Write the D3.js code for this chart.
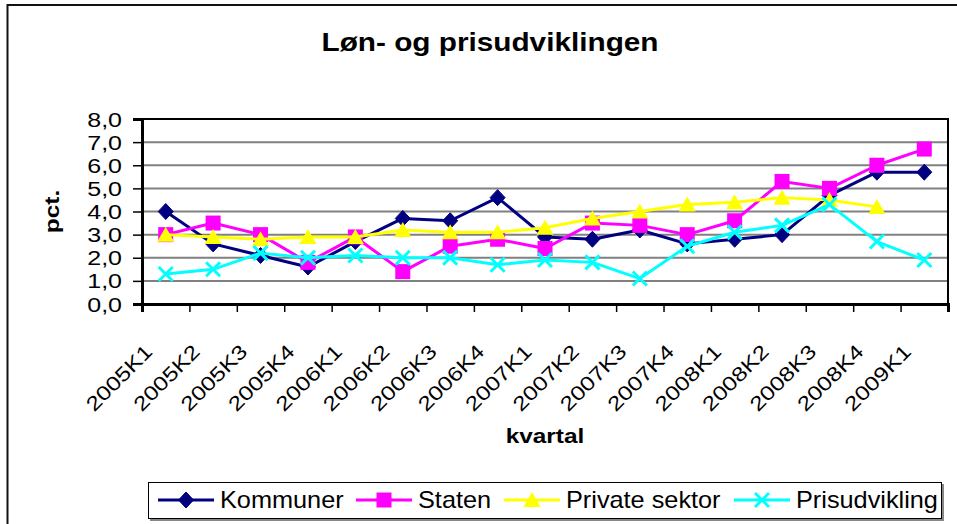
<!DOCTYPE html>
<html>
<head>
<meta charset="utf-8">
<script src="https://cdn.jsdelivr.net/npm/d3@7"></script>
<style>
  html, body { margin: 0; padding: 0; background: #fff; }
  svg { display: block; }
  svg text { font-family: "Liberation Sans", Arial, sans-serif; }
</style>
</head>
<body>
<svg id="chart" width="957" height="524"></svg>
<script>
const categories = ["2005K1","2005K2","2005K3","2005K4","2006K1","2006K2","2006K3","2006K4",
  "2007K1","2007K2","2007K3","2007K4","2008K1","2008K2","2008K3","2008K4","2009K1"];
const kommuner = [4.0, 2.6, 2.1, 1.6, 2.7, 3.7, 3.6, 4.6, 2.9, 2.8, 3.2, 2.6, 2.8, 3.0, 4.7, 5.7, 5.7];
const staten   = [3.0, 3.5, 3.0, 1.8, 2.9, 1.4, 2.5, 2.8, 2.4, 3.5, 3.4, 3.0, 3.6, 5.3, 5.0, 6.0, 6.7];
const privat   = [3.0, 2.9, 2.8, 2.9, 2.9, 3.2, 3.1, 3.1, 3.3, 3.7, 4.0, 4.3, 4.4, 4.6, 4.5, 4.2, null];
const pris     = [1.3, 1.5, 2.2, 2.0, 2.1, 2.0, 2.0, 1.7, 1.9, 1.8, 1.1, 2.5, 3.1, 3.4, 4.3, 2.7, 1.9];
const yTicks = [0, 1, 2, 3, 4, 5, 6, 7, 8];
const seriesNames = ["Kommuner", "Staten", "Private sektor", "Prisudvikling"];
const title = "Løn- og prisudviklingen";
const xTitle = "kvartal";
const yTitle = "pct.";

const FONT = "'Liberation Sans', Arial, sans-serif";

const series = [
  { name: seriesNames[0], values: kommuner, color: "#000080", marker: "diamond" },
  { name: seriesNames[1], values: staten,   color: "#FF00FF", marker: "square" },
  { name: seriesNames[2], values: privat,   color: "#FFFF00", marker: "triangle" },
  { name: seriesNames[3], values: pris,     color: "#00FFFF", marker: "x" }
];

const svg = d3.select("#chart");
const L = 142, R = 948, T = 119, B = 304;

// outer chart border
svg.append("rect").attr("x", 7.5).attr("y", 5).attr("width", 980).attr("height", 560)
  .attr("fill", "#fff").attr("stroke", "#111").attr("stroke-width", 2);

const x = d3.scaleBand().domain(categories).range([L, R]).paddingInner(0).paddingOuter(0);
const xi = d3.scaleLinear().domain([0, categories.length]).range([L, R]);
const y = d3.scaleLinear().domain([0, 8]).range([B, T]);
const cx = c => x(c) + x.bandwidth() / 2;

// gridlines
svg.append("g").selectAll("line").data(yTicks.filter(v => v > 0 && v < 8)).join("line")
  .attr("x1", L).attr("x2", R).attr("y1", d => y(d)).attr("y2", d => y(d))
  .attr("stroke", "#808080").attr("stroke-width", 2);

// plot border top/right
svg.append("path").attr("d", `M${L},${T}H${R}V${B}`).attr("fill", "none")
  .attr("stroke", "#000").attr("stroke-width", 2);

// y axis
const yAxis = svg.append("g").attr("transform", `translate(${L},0)`)
  .call(d3.axisLeft(y).tickValues(yTicks).tickSize(9).tickFormat(d => d.toFixed(1).replace(".", ",")));
yAxis.attr("font-family", FONT);
yAxis.select(".domain").attr("stroke", "#000").attr("stroke-width", 3);
yAxis.selectAll(".tick line").attr("stroke", "#000").attr("stroke-width", 1.5);
yAxis.selectAll(".tick text")
  .attr("x", null).attr("dy", null)
  .attr("text-anchor", "end")
  .attr("transform", "translate(-20,7) scale(1.25,1)")
  .attr("font-size", 20).attr("fill", "#000")
  .attr("font-family", FONT);

// x axis (category boundaries)
const xAxis = svg.append("g").attr("transform", `translate(0,${B})`)
  .call(d3.axisBottom(xi).tickValues(d3.range(categories.length + 1)).tickSize(8).tickFormat(""));
xAxis.select(".domain").attr("stroke", "#000").attr("stroke-width", 3);
xAxis.selectAll(".tick line").attr("stroke", "#000").attr("stroke-width", 1.5);

// x labels
svg.append("g").selectAll("text").data(categories).join("text")
  .attr("transform", d => `translate(${cx(d) - 12},${B + 49}) rotate(-45) scale(1.22,1)`)
  .attr("text-anchor", "end").attr("font-size", 20).attr("fill", "#000")
  .attr("font-family", FONT)
  .text(d => d);

// axis titles
svg.append("text").attr("transform", `translate(${(L + R) / 2},443) scale(1.22,1)`)
  .attr("text-anchor", "middle").attr("font-weight", "bold").attr("font-size", 20)
  .attr("font-family", FONT).text(xTitle);
svg.append("text").attr("transform", `translate(59,${(T + B) / 2}) rotate(-90) scale(1.22,1)`)
  .attr("text-anchor", "middle").attr("font-weight", "bold").attr("font-size", 20)
  .attr("font-family", FONT).text(yTitle);

// title
svg.append("text").attr("transform", `translate(490,51) scale(1.19,1)`)
  .attr("text-anchor", "middle").attr("font-weight", "bold").attr("font-size", 25)
  .attr("font-family", FONT).text(title);

function drawMarker(g, type, color) {
  if (type === "diamond") {
    g.append("path").attr("d", "M0,-8L7.5,0L0,8L-7.5,0Z").attr("fill", color).attr("stroke", color).attr("stroke-width", 1);
  } else if (type === "square") {
    g.append("rect").attr("x", -7.5).attr("y", -7.5).attr("width", 15).attr("height", 15).attr("fill", color);
  } else if (type === "triangle") {
    g.append("path").attr("d", "M0,-8L8.5,7L-8.5,7Z").attr("fill", color);
  } else {
    g.append("path").attr("d", "M-7,-7L7,7M-7,7L7,-7").attr("stroke", color).attr("stroke-width", 3).attr("fill", "none");
  }
}

const line = d3.line()
  .defined(d => d.v !== null && d.v !== undefined)
  .x(d => cx(d.c)).y(d => y(d.v));

series.forEach(s => {
  const pts = categories.map((c, i) => ({ c, v: s.values[i] }));
  const g = svg.append("g");
  g.append("path").attr("d", line(pts)).attr("fill", "none")
    .attr("stroke", s.color).attr("stroke-width", 3).attr("stroke-linejoin", "round");
  pts.filter(p => p.v !== null).forEach(p => {
    const m = g.append("g").attr("transform", `translate(${cx(p.c)},${y(p.v)})`);
    drawMarker(m, s.marker, s.color);
  });
});

// legend
const lg = svg.append("g");
lg.append("rect").attr("x", 150).attr("y", 484).attr("width", 794).attr("height", 37).attr("fill", "#888");
lg.append("rect").attr("x", 148.5).attr("y", 482.5).attr("width", 793).attr("height", 36)
  .attr("fill", "#fff").attr("stroke", "#000").attr("stroke-width", 1);
const legendX = [158, 356, 504, 734];
series.forEach((s, i) => {
  const g = lg.append("g").attr("transform", `translate(${legendX[i]},500)`);
  g.append("line").attr("x1", 0).attr("x2", 56).attr("y1", 0).attr("y2", 0)
    .attr("stroke", s.color).attr("stroke-width", 3);
  const m = g.append("g").attr("transform", "translate(28,0)");
  drawMarker(m, s.marker, s.color);
  g.append("text").attr("transform", "translate(62,8) scale(1.1,1)")
    .attr("font-size", 23).attr("fill", "#000").attr("font-family", FONT).text(s.name);
});
</script>
</body>
</html>
